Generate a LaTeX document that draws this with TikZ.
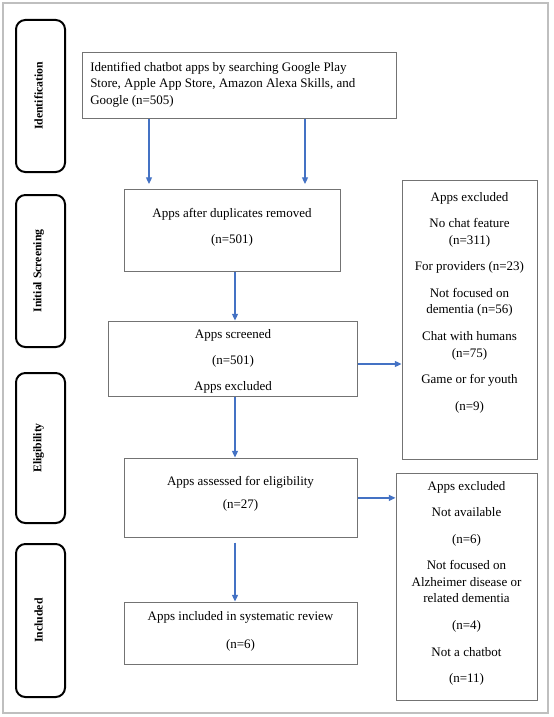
\documentclass[tikz,border=0pt]{standalone}
\usepackage{fontspec}
\setmainfont{Liberation Serif}
\usepackage{xcolor}
\usepackage{tikz}
\usetikzlibrary{fit}
\usetikzlibrary{arrows.meta}
\definecolor{flowblue}{HTML}{4472C4}

\begin{document}
\begin{tikzpicture}[x=0.75pt,y=-0.75pt,
        box/.style={draw=black!55, line width=0.75pt, inner sep=0pt},
        phase/.style={draw=black, line width=1.5pt, rounded corners=7pt, inner sep=0pt},
        txt/.style={align=center, inner sep=0pt, font=\fontsize{9.75pt}{12.4pt}\selectfont},
        phasetxt/.style={rotate=90, inner sep=0pt, font=\fontsize{8.8pt}{10pt}\selectfont\bfseries},
        flow/.style={draw=flowblue, line width=0.9pt, -{Triangle[length=5pt,width=4.5pt]}}]
        \useasboundingbox (0,0) rectangle (553,717);
        \draw[black!25, line width=1.1pt] (3,3) rectangle (548,713);

        % phases
        \node[phase, fit={(16,20) (65,172)}] (idph) {};
        \node[phase, fit={(16,195) (65,347)}] (scph) {};
        \node[phase, fit={(16,373) (65,523)}] (elph) {};
        \node[phase, fit={(16,544) (65,697)}] (inph) {};
        \node[phasetxt] at ([xshift=-1.5pt]idph.center) {Identification};
        \node[phasetxt] at ([xshift=-1.5pt]scph.center) {Initial Screening};
        \node[phasetxt] at ([xshift=-1.5pt]elph.center) {Eligibility};
        \node[phasetxt] at ([xshift=-1.5pt]inph.center) {Included};

        % flow boxes
        \node[box, fit={(82,53) (396,118)}] (ident) {};
        \node[box, fit={(124,189) (340,271)}] (dup) {};
        \node[box, fit={(108,321) (357,396)}] (screened) {};
        \node[box, fit={(124,458) (357,537)}] (assessed) {};
        \node[box, fit={(124,602) (357,664)}] (included) {};
        \node[box, fit={(402,180) (537,459)}] (excl1) {};
        \node[box, fit={(396,473) (537,700)}] (excl2) {};

        \node[txt, align=left, anchor=north west] at (90,62) {Identified chatbot apps by searching Google Play\\Store, Apple App Store, Amazon Alexa Skills, and\\Google (n=505)};
        \node[txt, anchor=north] at (232,208) {Apps after duplicates removed\\[7.5pt](n=501)};
        \node[txt, anchor=north] at (233,329) {Apps screened\\[7pt](n=501)\\[7pt]Apps excluded};
        \node[txt, anchor=north] at (240.5,476) {Apps assessed for eligibility\\[5pt](n=27)};
        \node[txt, anchor=north] at (240.5,611) {Apps included in systematic review\\[8.5pt](n=6)};
        \node[txt, anchor=north] at (469.5,192) {Apps excluded\\[7.5pt]No chat feature\\(n=311)\\[7.5pt]For providers (n=23)\\[7.5pt]Not focused on\\dementia (n=56)\\[7.5pt]Chat with humans\\(n=75)\\[7.5pt]Game or for youth\\[7.5pt](n=9)};
        \node[txt, anchor=north] at (466.5,481) {Apps excluded\\[7.5pt]Not available\\[7.5pt](n=6)\\[7.5pt]Not focused on\\Alzheimer disease or\\related dementia\\[7.5pt](n=4)\\[7.5pt]Not a chatbot\\[7.5pt](n=11)};

        % arrows
        \coordinate (d1) at (149,184);
        \coordinate (d2) at (305,184);
        \coordinate (col) at (235,0);
        \coordinate (row) at (0,364);
        \draw[flow] (ident.south -| d1) -- (d1);
        \draw[flow] (ident.south -| d2) -- (d2);
        \draw[flow] (dup.south -| col) -- (screened.north -| col);
        \draw[flow] (screened.south -| col) -- (assessed.north -| col);
        \draw[flow, shorten <=3.75pt] (assessed.south -| col) -- (included.north -| col);
        \draw[flow] (screened.east |- row) -- (excl1.west |- row);
        \draw[flow] ([yshift=-0.3pt]assessed.east) -- ([yshift=-0.3pt]assessed.east -| excl2.west);
\end{tikzpicture}
\end{document}
